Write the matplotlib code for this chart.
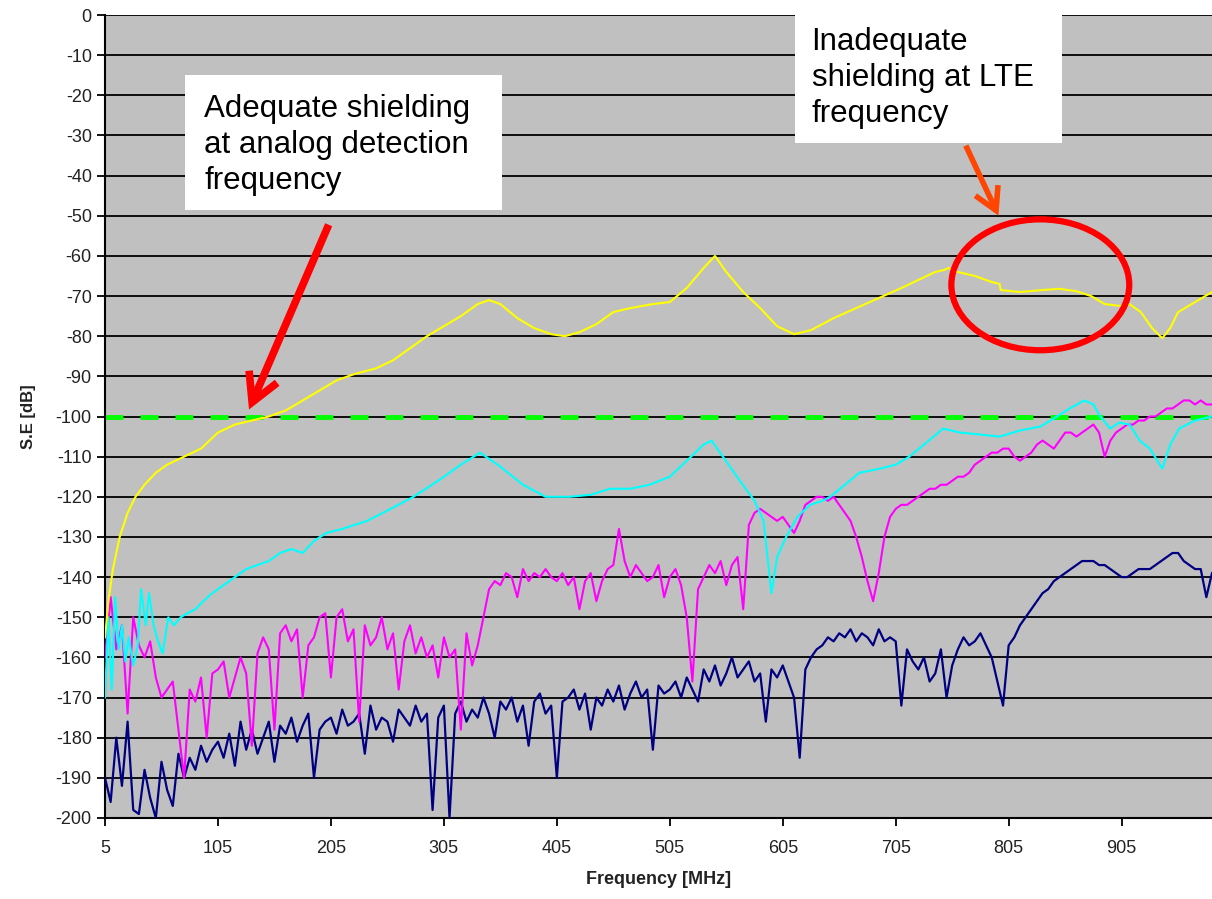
import matplotlib.pyplot as plt
import numpy as np
from matplotlib.patches import Ellipse, Rectangle, FancyArrowPatch

plt.rcParams['font.family'] = ['Liberation Sans', 'DejaVu Sans']
plt.rcParams['axes.unicode_minus'] = False

# Frequency grid for the noisy traces (MHz)
freq_noisy = np.arange(5, 990, 5)

# Dark blue trace (background / noise floor)
navy_se = [
    -190, -196, -180, -192, -176, -198, -199, -188, -195, -200, -186, -193, -197, -184, -190, -185, -188, -182, -186, -183,
    -181, -185, -179, -187, -176, -183, -178, -184, -180, -176, -186, -177, -179, -175, -181, -177, -174, -190, -178, -176,
    -175, -179, -173, -177, -176, -174, -184, -172, -178, -175, -176, -181, -173, -175, -177, -172, -176, -174, -198, -175,
    -172, -200, -174, -171, -176, -173, -175, -170, -174, -180, -171, -173, -170, -176, -172, -182, -171, -169, -174, -172,
    -190, -171, -170, -168, -173, -169, -178, -170, -172, -168, -171, -167, -173, -169, -166, -170, -168, -183, -167, -169,
    -168, -166, -170, -165, -168, -171, -163, -166, -162, -167, -164, -160, -165, -163, -161, -166, -164, -176, -163, -165,
    -162, -166, -170, -185, -163, -160, -158, -157, -155, -156, -154, -155, -153, -156, -154, -155, -157, -153, -156, -155,
    -156, -172, -158, -161, -163, -160, -166, -164, -158, -170, -162, -158, -155, -157, -156, -154, -157, -160, -166, -172,
    -157, -155, -152, -150, -148, -146, -144, -143, -141, -140, -139, -138, -137, -136, -136, -136, -137, -137, -138, -139,
    -140, -140, -139, -138, -138, -138, -137, -136, -135, -134, -134, -136, -137, -138, -138, -145, -139,
]

# Magenta trace
magenta_se = [
    -160, -145, -158, -152, -174, -150, -157, -160, -156, -165, -170, -168, -166, -178, -190, -168, -171, -165, -180, -164,
    -163, -161, -170, -165, -160, -164, -182, -159, -155, -158, -178, -154, -152, -156, -153, -170, -157, -155, -150, -149,
    -165, -150, -148, -156, -153, -176, -152, -157, -155, -150, -158, -154, -168, -156, -152, -159, -155, -160, -157, -165,
    -155, -160, -158, -178, -154, -162, -157, -150, -143, -141, -142, -139, -140, -145, -138, -141, -139, -140, -138, -140,
    -141, -139, -142, -140, -148, -141, -139, -146, -141, -138, -137, -128, -136, -140, -137, -139, -141, -140, -137, -145,
    -140, -138, -142, -150, -166, -143, -140, -137, -139, -136, -142, -137, -135, -148, -127, -124, -123, -124, -125, -126,
    -125, -127, -129, -126, -122, -121, -120, -120, -121, -120, -122, -124, -126, -130, -135, -141, -146, -139, -130, -125,
    -123, -122, -122, -121, -120, -119, -118, -118, -117, -117, -116, -115, -115, -114, -112, -111, -110, -109, -109, -108,
    -108, -110, -111, -110, -109, -107, -106, -107, -108, -106, -104, -104, -105, -104, -103, -102, -104, -110, -106, -104,
    -103, -102, -102, -101, -101, -100, -100, -99, -98, -98, -97, -96, -96, -97, -96, -97, -97,
]

# Cyan trace
cyan_freq = [5, 8, 11, 14, 17, 20, 23, 26, 30, 34, 37, 41, 44, 48, 52, 56, 61, 66, 72, 78, 85, 92, 100,
             110, 120, 130, 140, 150, 160, 170, 180, 190, 201, 215, 237, 258, 278, 300, 320, 337, 355,
             375, 395, 416, 435, 452, 470, 487, 505, 520, 535, 542, 552, 567, 580, 588, 595, 600, 608,
             618, 629, 640, 647, 660, 673, 691, 705, 717, 730, 747, 762, 780, 797, 815, 833, 845, 859,
             872, 880, 886, 895, 903, 912, 921, 930, 941, 948, 956, 970, 985]
cyan_se = [-170, -150, -168, -145, -158, -152, -161, -155, -162, -157, -143, -152, -144, -152, -156, -159, -150,
           -152, -150, -149, -148, -146, -144, -142, -140, -138, -137, -136, -134, -133, -134, -131, -129,
           -128, -126, -123, -120, -116, -112, -109, -112.5, -117, -120, -120, -119.5, -118, -118, -117,
           -115, -111, -107, -106, -110, -116, -121, -126, -144, -135, -130, -125, -122, -121, -120, -117,
           -114, -113, -112, -110, -107, -103, -104, -104.5, -105, -103.5, -102.5, -100.5, -98, -96, -97,
           -100, -103, -101.5, -102, -106, -108, -113, -107, -103, -101, -100]

# Yellow trace
yellow_freq = [5, 8, 12, 18, 25, 32, 40, 50, 60, 75, 90, 105, 120, 135, 150, 165, 180, 195, 210, 225, 245,
               260, 275, 290, 305, 320, 335, 345, 355, 370, 385, 400, 412, 425, 440, 455, 470, 490, 505, 520,
               535, 545, 555, 570, 585, 600, 615, 630, 650, 670, 690, 710, 725, 740, 748, 752, 760, 775, 790,
               797, 798, 815, 835, 850, 865, 878, 890, 905, 912, 922, 932, 941, 948, 955, 970, 985]
yellow_se = [-155, -146, -138, -130, -124, -120, -117, -114, -112, -110, -108, -104, -102, -101, -100, -98.5,
             -96, -93.5, -91, -89.5, -88, -86, -83, -80, -77.5, -75, -72, -71, -72, -75.5, -78, -79.5, -80,
             -79, -77, -74, -73, -72, -71.5, -68, -63, -60, -64, -69, -73, -77.5, -79.5, -78.5, -75.5, -73,
             -70.5, -68, -66, -64, -63.5, -63, -64, -65, -66.5, -67, -68.5, -69, -68.5, -68.2, -68.8, -70,
             -72, -72.5, -72, -74, -78, -80.5, -78, -74, -71.5, -69]

limit_level = -100
y_ticks = list(range(0, -210, -10))
x_ticks = [5, 105, 205, 305, 405, 505, 605, 705, 805, 905]

fig = plt.figure(figsize=(12.12, 8.99), dpi=100)
ax = fig.add_axes([105 / 1212, 1 - 818 / 899, 1107 / 1212, 803 / 899])
ax.set_facecolor('#C0C0C0')

for yv in y_ticks:
    ax.axhline(yv, color='black', lw=1.3, zorder=1)

ax.axhline(limit_level, color='#00FF00', lw=3.5, linestyle=(0, (3.7, 3.5)), zorder=2)
ax.plot(freq_noisy, navy_se, color='#000080', lw=1.6, zorder=3)
ax.plot(freq_noisy, magenta_se, color='#FF00FF', lw=1.5, zorder=4)
ax.plot(cyan_freq, cyan_se, color='#00FFFF', lw=1.5, zorder=5)
ax.plot(yellow_freq, yellow_se, color='#FFFF00', lw=1.5, zorder=6)

ax.set_xlim(5, 985)
ax.set_ylim(-200, 0)
ax.set_xticks(x_ticks)
ax.set_yticks(y_ticks)
ax.tick_params(axis='both', direction='out', length=6, width=1.3, labelsize=13, colors='black',
               labelcolor='#222222')
ax.tick_params(axis='x', pad=10)
for s in ['top', 'right']:
    ax.spines[s].set_visible(False)
for s in ['left', 'bottom']:
    ax.spines[s].set_linewidth(1.5)

ax.set_xlabel('Frequency [MHz]', fontsize=13, fontweight='bold', color='#222222', labelpad=10)
ax.set_ylabel('S.E [dB]', fontsize=12, fontweight='bold', color='#222222', labelpad=14)

# Annotation boxes
ax.add_patch(Rectangle((75.8, -48.6), 281, 33.7, facecolor='white', edgecolor='none',
                       zorder=10, clip_on=False))
ax.text(93, -19.6, 'Adequate shielding\nat analog detection\nfrequency', fontsize=22.5,
        va='top', ha='left', linespacing=1.26, zorder=11)

ax.add_patch(Rectangle((615.6, -31.9), 236.5, 32.6, facecolor='white', edgecolor='none',
                       zorder=10, clip_on=False))
ax.text(630.5, -3.0, 'Inadequate\nshielding at LTE\nfrequency', fontsize=22.5,
        va='top', ha='left', linespacing=1.26, zorder=11, clip_on=False)

# Arrows and circle
ax.add_patch(FancyArrowPatch((204, -51.6), (131.5, -98.9), arrowstyle='->,head_length=20,head_width=11',
                             color='#FF0000', lw=5.5, zorder=12, mutation_scale=1,
                             capstyle='butt', joinstyle='miter'))
ax.add_patch(FancyArrowPatch((766, -31.9), (797, -50.6), arrowstyle='->,head_length=16,head_width=9',
                             color='#FF4500', lw=4, zorder=12, mutation_scale=1,
                             capstyle='butt', joinstyle='miter'))
ax.add_patch(Ellipse((833, -67.2), 157.5, 32.6, fill=False, edgecolor='#FF0000', lw=4.5, zorder=12))

fig.savefig('out.png', dpi=100)
